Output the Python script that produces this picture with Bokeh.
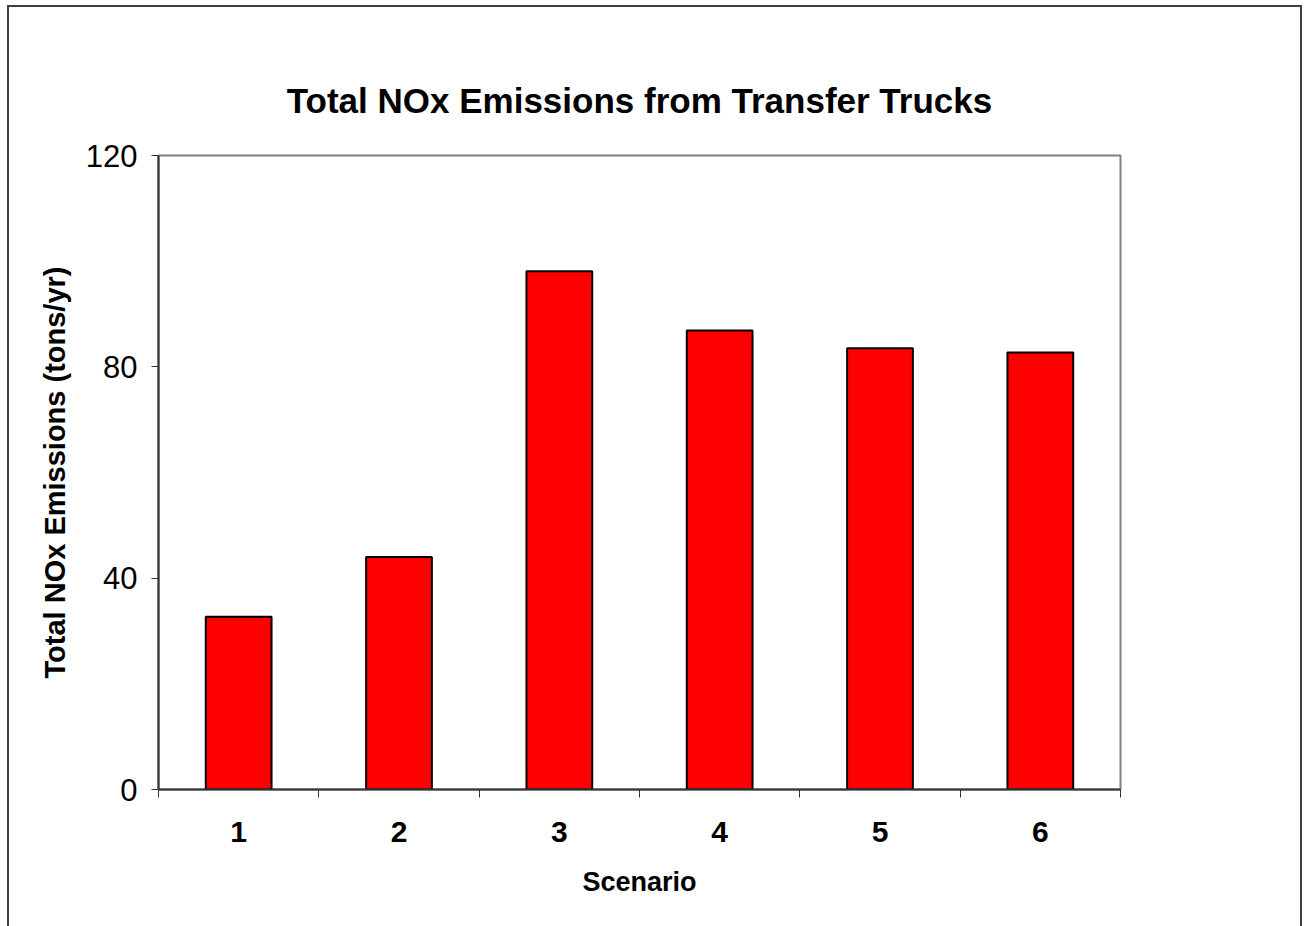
from bokeh.plotting import figure
from bokeh.models import FixedTicker, Range1d
from bokeh.embed import file_html
from bokeh.resources import INLINE

# Data
scenarios = [1, 2, 3, 4, 5, 6]
scenario_labels = ["1", "2", "3", "4", "5", "6"]
nox_emissions = [32.7, 44.0, 98.1, 86.9, 83.5, 82.7]
y_ticks = [0, 40, 80, 120]

FONT = "Liberation Sans"
DARK = "#333333"

p = figure(
    width=1291, height=919,
    frame_width=962, frame_height=634,
    min_border_left=149, min_border_top=148,
    min_border_right=180, min_border_bottom=137,
    x_range=Range1d(0.5, 6.5), y_range=Range1d(0, 120),
    output_backend="svg", toolbar_location=None,
    title="Total NOx Emissions from Transfer Trucks",
)
p.styles = {
    "margin-left": "7px",
    "margin-top": "5px",
    "border-left": "2px solid #404040",
    "border-top": "2px solid #404040",
    "border-right": "2px solid #404040",
}

p.title.align = "center"
p.title.text_font = FONT
p.title.text_font_size = "35px"
p.title.text_font_style = "bold"
p.title.text_color = "black"
p.title.standoff = 71

p.vbar(x=scenarios, top=nox_emissions, width=0.41,
       fill_color="#FF0000", line_color="black", line_width=2)

p.xgrid.visible = False
p.ygrid.visible = False
p.background_fill_color = "white"
p.border_fill_color = "white"
p.outline_line_color = "#808080"
p.outline_line_width = 2

# X axis
xa = p.xaxis[0]
xa.ticker = FixedTicker(ticks=scenarios,
                        minor_ticks=[s - 0.5 for s in scenarios] + [scenarios[-1] + 0.5])
xa.major_label_overrides = {s: l for s, l in zip(scenarios, scenario_labels)}
xa.major_tick_out = 0
xa.major_tick_in = 0
xa.minor_tick_out = 8
xa.minor_tick_in = 0
xa.minor_tick_line_color = DARK
xa.axis_line_color = DARK
xa.axis_line_width = 2
xa.major_label_text_font = FONT
xa.major_label_text_font_size = "30px"
xa.major_label_text_font_style = "bold"
xa.major_label_text_color = "black"
xa.major_label_standoff = 24
xa.axis_label = "Scenario"
xa.axis_label_text_font = FONT
xa.axis_label_text_font_size = "27px"
xa.axis_label_text_font_style = "bold"
xa.axis_label_text_color = "black"
xa.axis_label_standoff = 22

# Y axis
ya = p.yaxis[0]
ya.ticker = FixedTicker(ticks=y_ticks, minor_ticks=[])
ya.major_tick_out = 7
ya.major_tick_in = 0
ya.major_tick_line_color = DARK
ya.axis_line_color = DARK
ya.axis_line_width = 2
ya.major_label_text_font = FONT
ya.major_label_text_font_size = "31px"
ya.major_label_text_color = "black"
ya.major_label_standoff = 14
ya.axis_label = "Total NOx Emissions (tons/yr)"
ya.axis_label_text_font = FONT
ya.axis_label_text_font_size = "29px"
ya.axis_label_text_font_style = "bold"
ya.axis_label_text_color = "black"
ya.axis_label_standoff = 12

open("out.html", "w").write(file_html(p, INLINE))
